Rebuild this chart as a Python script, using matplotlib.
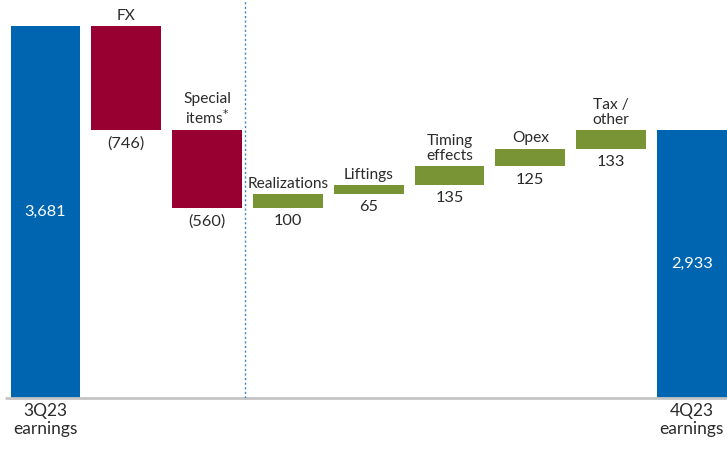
import matplotlib
matplotlib.use("Agg")
import matplotlib.pyplot as plt
import numpy as np

# Earnings bridge, 3Q23 -> 4Q23
categories = ["3Q23\nearnings", "FX", "Special\nitems$^{*}$", "Realizations", "Liftings",
              "Timing\neffects", "Opex", "Tax /\nother", "4Q23\nearnings"]
values = [3681, -746, -560, 100, 65, 135, 125, 133, 2933]
kinds = ["total", "delta", "delta", "delta", "delta", "delta", "delta", "delta", "total"]

BLUE = "#0065B0"
RED = "#990032"
GREEN = "#789435"
TEXT = "#2b2b2b"

plt.rcParams["font.family"] = ["Lato", "DejaVu Sans"]

fig = plt.figure(figsize=(7.27, 4.51), dpi=100)
ax = fig.add_axes([0, 53 / 451, 1, 398 / 451])

x = np.arange(len(categories))
bottoms, heights, colors = [], [], []
running = 0
for v, k in zip(values, kinds):
    if k == "total":
        bottoms.append(0)
        heights.append(v)
        colors.append(BLUE)
        running = v
    else:
        bottoms.append(running + min(v, 0))
        heights.append(abs(v))
        colors.append(GREEN if v > 0 else RED)
        running += v

ax.bar(x, heights, bottom=bottoms, width=0.865, color=colors, linewidth=0)

ylo, yhi = 1012, 3868
ax.set_ylim(ylo, yhi)
ax.set_xlim(-0.563, 8.434)

fs_cat = 11.2
fs_val = 11.8
for i, (cat, v, k, b, h) in enumerate(zip(categories, values, kinds, bottoms, heights)):
    if k == "total":
        # value inside the bar, centred on the visible part
        ax.text(i, (ylo + v) / 2, f"{v:,}", ha="center", va="center",
                fontsize=11.8, color="white")
        ax.annotate(cat, (i, ylo), xytext=(0, -3.5), textcoords="offset points",
                    ha="center", va="top", fontsize=12.5, color=TEXT, linespacing=1.2,
                    annotation_clip=False)
    else:
        ax.annotate(cat, (i, b + h), xytext=(0, 2.5), textcoords="offset points",
                    ha="center", va="bottom", fontsize=fs_cat, color=TEXT, linespacing=1.1)
        lab = f"{v:,}" if v > 0 else f"({abs(v):,})"
        ax.annotate(lab, (i, b), xytext=(0, -4.5), textcoords="offset points",
                    ha="center", va="top", fontsize=fs_val, color=TEXT)

# baseline and divider
ax.plot([-0.5, 8.434], [ylo, ylo], color="#c4c4c4", lw=2, clip_on=False, solid_capstyle="butt")
ax.axvline(2.47, color="#3d82c4", lw=1.0, ls=(0, (1.5, 1.8)))

ax.axis("off")
fig.savefig("out.png", dpi=100)
